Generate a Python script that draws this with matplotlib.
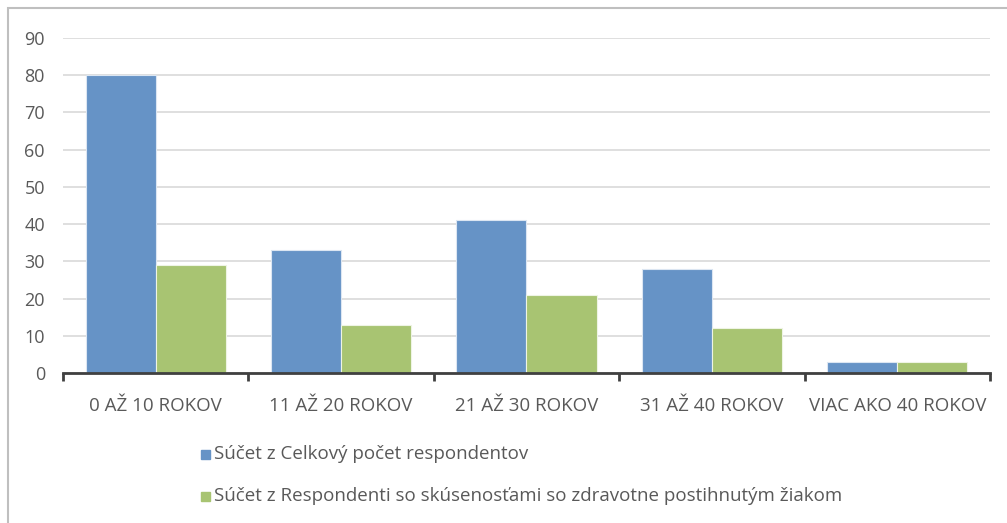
import numpy as np
import matplotlib.pyplot as plt
from matplotlib.patches import Rectangle

plt.rcParams['font.family'] = ['Open Sans', 'DejaVu Sans']

categories = ["0 AŽ 10 ROKOV", "11 AŽ 20 ROKOV", "21 AŽ 30 ROKOV",
              "31 AŽ 40 ROKOV", "VIAC AKO 40 ROKOV"]
celkovy = [80, 33, 41, 28, 3]
so_skusenostami = [29, 13, 21, 12, 3]
series_names = ["Súčet z Celkový počet respondentov",
                "Súčet z Respondenti so skúsenosťami so zdravotne postihnutým žiakom"]

blue = "#6693c6"
green = "#a8c472"
text_col = "#595959"

fig = plt.figure(figsize=(10.07, 5.23), dpi=100)
ax = fig.add_axes([0.0626, 0.2868, 0.9204, 0.6405])

x = np.arange(len(categories))
w = 0.378
ax.bar(x - w / 2, celkovy, w, color=blue, edgecolor="#dce6f2", linewidth=0.8, zorder=3)
ax.bar(x + w / 2, so_skusenostami, w, color=green, edgecolor="#eef4e4", linewidth=0.8, zorder=3)

ax.set_xlim(-0.5, len(categories) - 0.5)
ax.set_ylim(0, 90)
ax.set_yticks(range(0, 91, 10))
ax.yaxis.grid(True, color="#d9d9d9", linewidth=1.2, zorder=0)
ax.tick_params(axis="y", length=0, labelsize=13, labelcolor=text_col, pad=13)

ax.set_xticks(np.arange(-0.5, len(categories), 1.0))
ax.set_xticklabels([])
ax.set_xticks(x, minor=True)
ax.set_xticklabels(categories, minor=True)
ax.tick_params(axis="x", which="major", length=6, width=2, color="#404040", direction="out")
ax.tick_params(axis="x", which="minor", length=0, labelsize=13.5, labelcolor=text_col, pad=17)

for s in ["top", "right", "left"]:
    ax.spines[s].set_visible(False)
ax.spines["bottom"].set_color("#404040")
ax.spines["bottom"].set_linewidth(2)
ax.spines["bottom"].set_zorder(4)

# legend, stacked at the bottom
for i, (name, col) in enumerate(zip(series_names, [blue, green])):
    yy = 0.132 - i * 0.081
    fig.patches.append(Rectangle((0.1995, yy - 0.009), 0.009, 0.0175,
                                 transform=fig.transFigure, color=col))
    fig.text(0.2125, yy, name, fontsize=13.5, color=text_col, va="center")

# outer chart frame
fig.patches.append(Rectangle((0.008, -0.02), 1.5, 1.004, transform=fig.transFigure,
                             fill=False, edgecolor="#bfbfbf", linewidth=1.5))

fig.savefig("out.png", dpi=100)
